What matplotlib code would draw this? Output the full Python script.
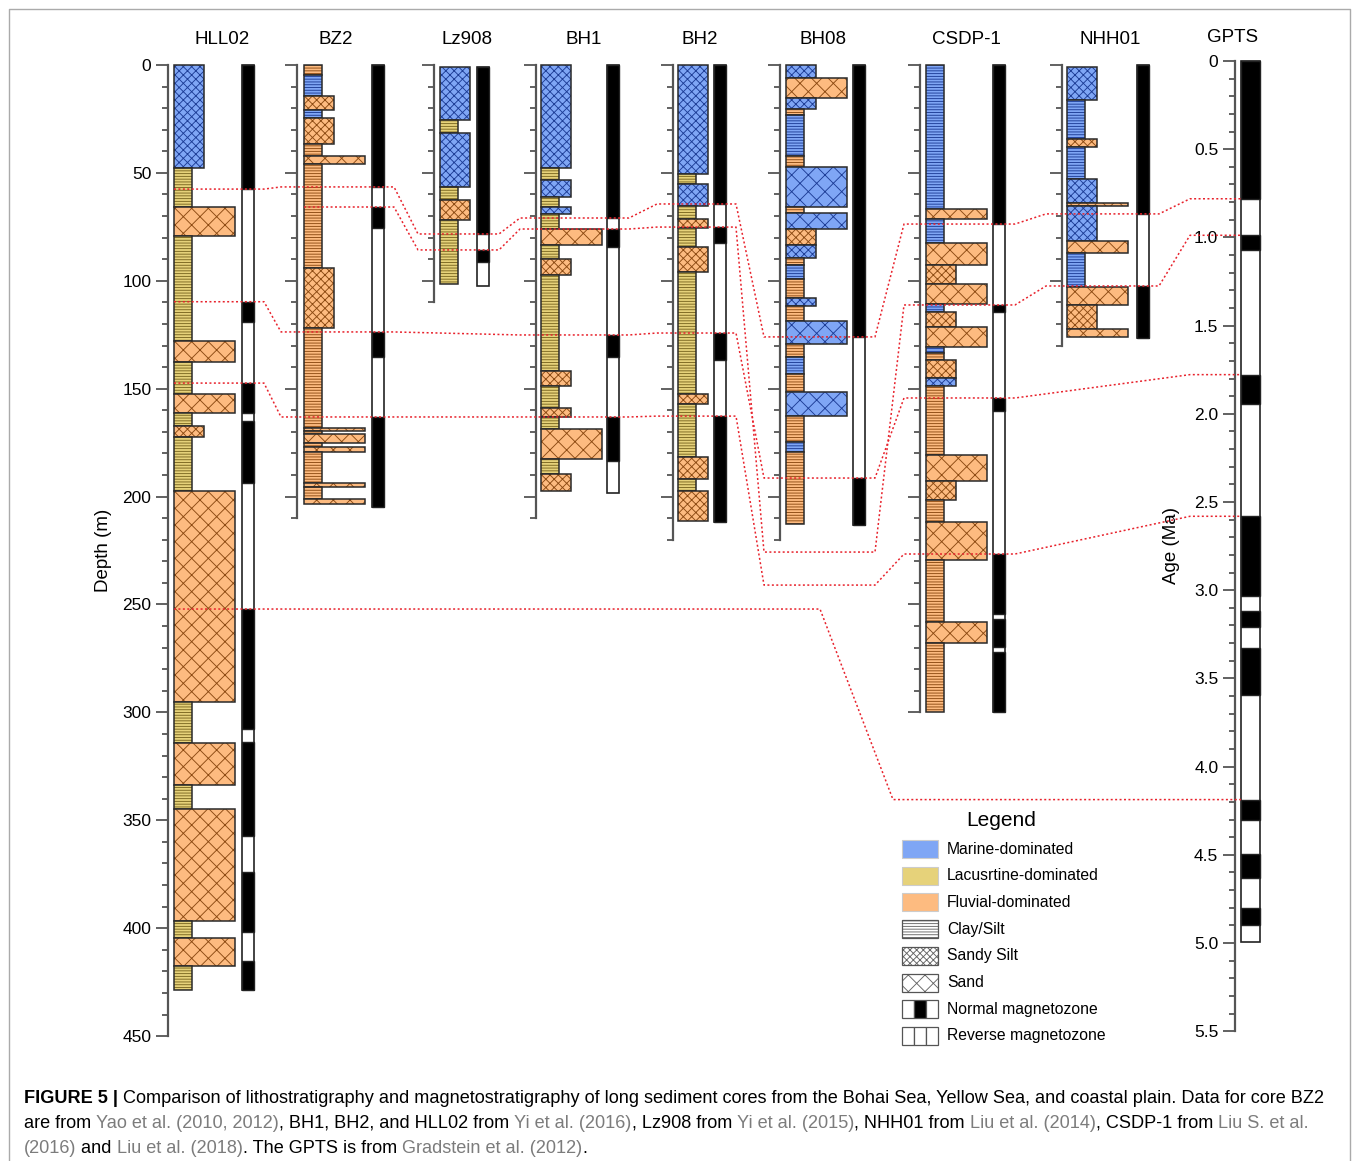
import matplotlib
matplotlib.use('Agg')
import matplotlib.pyplot as plt
from matplotlib.patches import Rectangle
from matplotlib.ticker import FixedLocator, FixedFormatter

plt.rcParams['font.family'] = ['Liberation Sans', 'DejaVu Sans']
plt.rcParams['hatch.linewidth'] = 0.65

# ---------------- data ----------------
CORES = ['HLL02', 'BZ2', 'Lz908', 'BH1', 'BH2', 'BH08', 'CSDP-1', 'NHH01']

# lithology layers: (top m, base m, environment, grain size)
# environment M marine / L lacustrine / F fluvial ; grain c clay-silt / z sandy silt / s sand
HLL02_LITH = [
    (0, 47.7, 'M', 'z'), (47.7, 65.8, 'L', 'c'), (65.8, 79.2, 'F', 's'),
    (79.2, 127.9, 'L', 'c'), (127.9, 137.6, 'F', 's'), (137.6, 152.5, 'L', 'c'),
    (152.5, 161.3, 'F', 's'), (161.3, 167.3, 'L', 'c'), (167.3, 172.4, 'F', 'z'),
    (172.4, 197.4, 'L', 'c'), (197.4, 295.2, 'F', 's'), (295.2, 314.2, 'L', 'c'),
    (314.2, 333.6, 'F', 's'), (333.6, 344.8, 'L', 'c'), (344.8, 396.7, 'F', 's'),
    (396.7, 404.5, 'L', 'c'), (404.5, 417.5, 'F', 's'), (417.5, 428.6, 'L', 'c'),
]
BZ2_LITH = [
    (0, 4.6, 'F', 'c'), (4.6, 14.4, 'M', 'c'), (14.4, 20.9, 'F', 'z'),
    (20.9, 24.6, 'M', 'c'), (24.6, 36.6, 'F', 'z'), (36.6, 42.2, 'F', 'c'),
    (42.2, 45.9, 'F', 's'), (45.9, 94.1, 'F', 'c'), (94.1, 121.9, 'F', 'z'),
    (121.9, 168.2, 'F', 'c'), (168.2, 169.4, 'F', 's'), (169.4, 171.0, 'F', 'c'),
    (171.0, 175.2, 'F', 's'), (175.2, 177.0, 'F', 'c'), (177.0, 179.3, 'F', 's'),
    (179.3, 193.7, 'F', 'c'), (193.7, 195.6, 'F', 's'), (195.6, 201.0, 'F', 'c'),
    (201.0, 203.4, 'F', 's'),
]
LZ908_LITH = [
    (0.8, 25.5, 'M', 'z'), (25.5, 31.5, 'L', 'c'), (31.5, 56.5, 'M', 'z'),
    (56.5, 62.6, 'L', 'c'), (62.6, 71.8, 'F', 'z'), (71.8, 101.5, 'L', 'c'),
]
BH1_LITH = [
    (0, 47.7, 'M', 'z'), (47.7, 53.3, 'L', 'c'), (53.3, 61.2, 'M', 'z'),
    (61.2, 65.8, 'L', 'c'), (65.8, 69.0, 'M', 'z'), (69.0, 76.0, 'L', 'c'),
    (76.0, 83.4, 'F', 's'), (83.4, 89.9, 'L', 'c'), (89.9, 97.3, 'F', 'z'),
    (97.3, 141.8, 'L', 'c'), (141.8, 148.7, 'F', 'z'), (148.7, 158.9, 'L', 'c'),
    (158.9, 163.1, 'F', 'z'), (163.1, 168.7, 'L', 'c'), (168.7, 182.6, 'F', 's'),
    (182.6, 189.5, 'L', 'c'), (189.5, 197.4, 'F', 'z'),
]
BH2_LITH = [
    (0, 50.5, 'M', 'z'), (50.5, 55.1, 'L', 'c'), (55.1, 65.3, 'M', 'z'),
    (65.3, 71.4, 'L', 'c'), (71.4, 75.5, 'F', 'z'), (75.5, 84.3, 'L', 'c'),
    (84.3, 95.9, 'F', 'z'), (95.9, 152.5, 'L', 'c'), (152.5, 157.1, 'F', 'z'),
    (157.1, 181.6, 'L', 'c'), (181.6, 191.8, 'F', 'z'), (191.8, 197.4, 'L', 'c'),
    (197.4, 211.3, 'F', 'z'),
]
BH08_LITH = [
    (0, 6.0, 'M', 'z'), (6.0, 15.3, 'F', 's'), (15.3, 20.4, 'M', 'z'),
    (20.4, 23.2, 'F', 'c'), (23.2, 42.2, 'M', 'c'), (42.2, 47.3, 'F', 'c'),
    (47.3, 65.8, 'M', 's'), (65.8, 68.6, 'F', 'c'), (68.6, 76.0, 'M', 's'),
    (76.0, 83.4, 'F', 'z'), (83.4, 89.4, 'M', 'z'), (89.4, 92.7, 'F', 'c'),
    (92.7, 99.2, 'M', 'c'), (99.2, 108.0, 'F', 'c'), (108.0, 111.7, 'M', 'z'),
    (111.7, 118.6, 'F', 'c'), (118.6, 129.3, 'M', 's'), (129.3, 135.3, 'F', 'c'),
    (135.3, 143.2, 'M', 'c'), (143.2, 151.5, 'F', 'c'), (151.5, 162.6, 'M', 's'),
    (162.6, 174.7, 'F', 'c'), (174.7, 179.3, 'M', 'c'), (179.3, 212.7, 'F', 'c'),
]
CSDP1_LITH = [
    (0, 66.7, 'M', 'c'), (66.7, 71.4, 'F', 's'), (71.4, 82.5, 'M', 'c'),
    (82.5, 92.7, 'F', 's'), (92.7, 101.5, 'F', 'z'), (101.5, 110.8, 'F', 's'),
    (110.8, 114.5, 'M', 'c'), (114.5, 121.4, 'F', 'z'), (121.4, 130.7, 'F', 's'),
    (130.7, 133.5, 'M', 'c'), (133.5, 136.7, 'F', 'c'), (136.7, 145.0, 'F', 'z'),
    (145.0, 148.7, 'M', 'z'), (148.7, 180.7, 'F', 'c'), (180.7, 192.8, 'F', 's'),
    (192.8, 201.6, 'F', 'z'), (201.6, 211.8, 'F', 'c'), (211.8, 229.4, 'F', 's'),
    (229.4, 258.1, 'F', 'c'), (258.1, 267.8, 'F', 's'), (267.8, 299.8, 'F', 'c'),
]
NHH01_LITH = [
    (0.9, 16.2, 'M', 'z'), (16.2, 34.3, 'M', 'c'), (34.3, 38.0, 'F', 'z'),
    (38.0, 52.8, 'M', 'c'), (52.8, 63.9, 'M', 'z'), (63.9, 65.3, 'F', 's'),
    (65.3, 81.6, 'M', 'z'), (81.6, 87.1, 'F', 's'), (87.1, 102.9, 'M', 'c'),
    (102.9, 111.2, 'F', 's'), (111.2, 122.3, 'F', 'z'), (122.3, 126.0, 'F', 's'),
]

# magnetozones: normal-polarity intervals (m) and the sampled range (top, base)
HLL02_NORMAL = [(0, 57.5), (109.7, 119.0), (147.4, 161.3), (165.0, 193.7),
                (252.1, 307.7), (313.7, 357.3), (374.0, 401.8), (415.2, 428.6)]
BZ2_NORMAL = [(0, 56.5), (65.8, 75.5), (123.7, 135.3), (163.1, 204.8)]
LZ908_NORMAL = [(0.8, 78.3), (85.7, 91.3)]
BH1_NORMAL = [(0, 70.9), (76.0, 84.3), (125.1, 135.3), (163.1, 183.5)]
BH2_NORMAL = [(0, 64.4), (75.1, 82.5), (124.2, 136.7), (162.7, 211.8)]
BH08_NORMAL = [(0, 126.0), (191.4, 213.2)]
CSDP1_NORMAL = [(0, 73.7), (111.2, 114.5), (154.3, 160.3), (226.6, 254.4),
                (256.7, 269.7), (272.0, 299.8)]
NHH01_NORMAL = [(0, 69.0), (102.4, 126.5)]

MAG_RANGE = {'HLL02': (0, 428.6), 'BZ2': (0, 204.8), 'Lz908': (0.8, 102.4),
             'BH1': (0, 198.3), 'BH2': (0, 211.8), 'BH08': (0, 213.2),
             'CSDP-1': (0, 299.8), 'NHH01': (0, 126.5)}

LITH = {'HLL02': HLL02_LITH, 'BZ2': BZ2_LITH, 'Lz908': LZ908_LITH, 'BH1': BH1_LITH,
        'BH2': BH2_LITH, 'BH08': BH08_LITH, 'CSDP-1': CSDP1_LITH, 'NHH01': NHH01_LITH}
NORMAL = {'HLL02': HLL02_NORMAL, 'BZ2': BZ2_NORMAL, 'Lz908': LZ908_NORMAL,
          'BH1': BH1_NORMAL, 'BH2': BH2_NORMAL, 'BH08': BH08_NORMAL,
          'CSDP-1': CSDP1_NORMAL, 'NHH01': NHH01_NORMAL}

# GPTS (Ma)
GPTS_NORMAL = [(0, 0.781), (0.988, 1.072), (1.778, 1.945), (2.581, 3.032),
               (3.116, 3.207), (3.330, 3.596), (4.187, 4.300), (4.493, 4.631),
               (4.799, 4.896)]
GPTS_BASE = 4.997
GPTS_TICKS = [0, 0.5, 1.0, 1.5, 2.0, 2.5, 3.0, 3.5, 4.0, 4.5, 5.0, 5.5]
GPTS_LABELS = ['0', '0.5', '1.0', '1.5', '2.0', '2.5', '3.0', '3.5', '4.0', '4.5', '5.0', '5.5']

# correlation horizons (depth in m, GPTS in Ma)
HORIZONS = [
    [('HLL02', 57.5), ('BZ2', 56.5), ('Lz908', 78.3), ('BH1', 70.9), ('BH2', 64.4),
     ('BH08', 126.0), ('CSDP-1', 73.7), ('NHH01', 69.0), ('GPTS', 0.781)],
    [('BZ2', 65.8), ('Lz908', 85.7), ('BH1', 76.0), ('BH2', 75.1), ('BH08', 225.7),
     ('CSDP-1', 111.2), ('NHH01', 102.4), ('GPTS', 0.988)],
    [('HLL02', 109.7), ('BZ2', 123.7), ('BH1', 125.1), ('BH2', 124.2), ('BH08', 191.4),
     ('CSDP-1', 154.3), ('GPTS', 1.778)],
    [('HLL02', 147.4), ('BZ2', 163.1), ('BH1', 163.1), ('BH2', 162.7), ('BH08', 241.0),
     ('CSDP-1', 226.6), ('GPTS', 2.581)],
    [('HLL02', 252.1), ('GPTS', 4.187)],
]

LEGEND_LABELS = ['Marine-dominated', 'Lacusrtine-dominated', 'Fluvial-dominated',
                 'Clay/Silt', 'Sandy Silt', 'Sand', 'Normal magnetozone',
                 'Reverse magnetozone']

# ---------------- style / layout (pixels) ----------------
W, H, DPI = 1358, 1161, 100
Y0, PX_M = 65.0, 2.158        # row of 0 m, pixels per metre
A0, PX_MA = 61.0, 176.4       # row of 0 Ma, pixels per Ma
PAD = 6

ENV_FILL = {'M': '#7fa6f5', 'L': '#e6d27a', 'F': '#fdbb80'}
ENV_HATCH = {'M': '#1d3d96', 'L': '#7a6720', 'F': '#8c4a12'}
GRAIN_HATCH = {'c': '------', 'z': 'xxxx', 's': 'xx'}
GRAIN_W = {'c': 18, 'z': 30, 's': 61}
MAG_W = 12
RED = '#e8222c'

LAYOUT = {
    'HLL02': dict(spine=168, lith=174, mag=242, axis_max=450, title_x=222),
    'BZ2': dict(spine=297, lith=304, mag=372, axis_max=210, title_x=336),
    'Lz908': dict(spine=434, lith=440, mag=477, axis_max=110, title_x=467),
    'BH1': dict(spine=536, lith=541, mag=607, axis_max=210, title_x=584),
    'BH2': dict(spine=673, lith=678, mag=714, axis_max=220, title_x=700),
    'BH08': dict(spine=780, lith=786, mag=853, axis_max=220, title_x=823),
    'CSDP-1': dict(spine=920, lith=926, mag=993, axis_max=300, title_x=966),
    'NHH01': dict(spine=1062, lith=1067, mag=1137, axis_max=130, title_x=1110),
}
HORIZON_BENDS = {4: (820, 893)}


def px_box(x0, x1, y0, y1):
    return [x0 / W, 1 - y1 / H, (x1 - x0) / W, (y1 - y0) / H]


def style_axis(ax, top, bottom, majors, minors):
    for s in ['top', 'right', 'bottom']:
        ax.spines[s].set_visible(False)
    ax.spines['left'].set_bounds(top, bottom)
    ax.spines['left'].set_color('#555555')
    ax.spines['left'].set_linewidth(1.6)
    ax.patch.set_visible(False)
    ax.set_xticks([])
    ax.yaxis.set_major_locator(FixedLocator(majors))
    ax.yaxis.set_minor_locator(FixedLocator(minors))
    ax.tick_params(axis='y', which='major', length=9, width=1.3, color='#555555',
                   labelsize=12.5, pad=3)
    ax.tick_params(axis='y', which='minor', length=4.5, width=1.3, color='#555555')


fig = plt.figure(figsize=(W / DPI, H / DPI), dpi=DPI)

core_axes = {}
for name in CORES:
    lay = LAYOUT[name]
    right = lay['mag'] + MAG_W + 4
    ax = fig.add_axes(px_box(lay['spine'], right, Y0 - PAD * PX_M, Y0 + (450 + PAD) * PX_M))
    ax.set_xlim(lay['spine'], right)
    ax.set_ylim(450 + PAD, -PAD)
    amax = lay['axis_max']
    style_axis(ax, 0, amax, list(range(0, amax + 1, 50)),
               [v for v in range(0, amax + 1, 10) if v % 50])
    if name != 'HLL02':
        ax.tick_params(axis='y', labelleft=False)

    for top, base, env, grain in LITH[name]:
        w = GRAIN_W[grain]
        ax.bar(lay['lith'], base - top, width=w, bottom=top, align='edge',
               color=ENV_FILL[env], edgecolor=ENV_HATCH[env], hatch=GRAIN_HATCH[grain],
               linewidth=0)
        ax.bar(lay['lith'], base - top, width=w, bottom=top, align='edge',
               fill=False, edgecolor='#2a2a2a', linewidth=1.1)

    mtop, mbase = MAG_RANGE[name]
    ax.bar(lay['mag'], mbase - mtop, width=MAG_W, bottom=mtop, align='edge',
           color='white', edgecolor='#222222', linewidth=1.2)
    for top, base in NORMAL[name]:
        ax.bar(lay['mag'], base - top, width=MAG_W, bottom=top, align='edge',
               color='black', edgecolor='#222222', linewidth=1.0)
    core_axes[name] = ax

core_axes['HLL02'].set_yticklabels([str(v) for v in range(0, 451, 50)])

# GPTS column
gax = fig.add_axes(px_box(1235, 1264, A0 - 0.05 * PX_MA, A0 + 5.55 * PX_MA))
gax.set_xlim(1235, 1264)
gax.set_ylim(5.55, -0.05)
style_axis(gax, 0, 5.5, GPTS_TICKS,
           [round(i * 0.1, 1) for i in range(56) if i % 5])
gax.yaxis.set_major_formatter(FixedFormatter(GPTS_LABELS))
gax.bar(1241, GPTS_BASE, width=19, bottom=0, align='edge', color='white',
        edgecolor='#222222', linewidth=1.2)
for top, base in GPTS_NORMAL:
    gax.bar(1241, base - top, width=19, bottom=top, align='edge', color='black',
            edgecolor='#222222', linewidth=1.0)

# overlay in pixel coordinates
over = fig.add_axes([0, 0, 1, 1])
over.set_xlim(0, W)
over.set_ylim(H, 0)
over.axis('off')
over.set_zorder(5)


def row_of(name, val):
    a = gax if name == 'GPTS' else core_axes[name]
    disp = a.transData.transform((a.get_xlim()[0], val))
    return over.transData.inverted().transform(disp)[1]


def x_in(name):
    return 1190 if name == 'GPTS' else LAYOUT[name]['spine'] - 16


def x_out(name):
    return 1241 if name == 'GPTS' else LAYOUT[name]['mag'] + MAG_W + 10


for k, hz in enumerate(HORIZONS):
    xs, ys = [], []
    for i, (name, val) in enumerate(hz):
        y = row_of(name, val)
        start = LAYOUT[name]['lith'] if i == 0 else x_in(name)
        end = x_out(name)
        if k in HORIZON_BENDS:
            if i == 0:
                end = HORIZON_BENDS[k][0]
            else:
                start = HORIZON_BENDS[k][1]
        xs += [start, end]
        ys += [y, y]
    over.plot(xs, ys, color=RED, lw=1.1, linestyle=(0, (1.3, 1.6)), zorder=6)

# titles and axis labels
for name in CORES:
    over.text(LAYOUT[name]['title_x'], 39, name, ha='center', va='center', fontsize=13.5)
over.text(1233, 37, 'GPTS', ha='center', va='center', fontsize=13.5)
over.text(104, 550, 'Depth (m)', rotation=90, ha='center', va='center', fontsize=13.5)
over.text(1172, 546, 'Age (Ma)', rotation=90, ha='center', va='center', fontsize=13.5)

# legend
over.text(1001, 821, 'Legend', ha='center', va='center', fontsize=15)
for i, label in enumerate(LEGEND_LABELS):
    yc = 849 + i * 26.7
    y = yc - 9
    if i < 3:
        fill = [ENV_FILL['M'], ENV_FILL['L'], ENV_FILL['F']][i]
        over.add_patch(Rectangle((902, y), 36, 18, facecolor=fill, edgecolor='#cccccc', lw=0.8))
    elif i < 6:
        hatch = ['------', 'xxxxx', 'xx'][i - 3]
        over.add_patch(Rectangle((902, y), 36, 18, facecolor='white', edgecolor='#666666',
                                 hatch=hatch, lw=0))
        over.add_patch(Rectangle((902, y), 36, 18, fill=False, edgecolor='#555555', lw=0.9))
    else:
        for j in range(3):
            fc = 'black' if (i == 6 and j == 1) else 'white'
            over.add_patch(Rectangle((902 + 12 * j, y), 12, 18, facecolor=fc,
                                     edgecolor='#555555', lw=0.9))
    over.text(947, yc, label, ha='left', va='center', fontsize=11.3)

# frame
over.plot([9, 9, 1350, 1350], [1161, 9, 9, 1161], color='#aaaaaa', lw=1.0)

# caption
GRAY = '#7c7c7c'
CAPTION = [
    [('FIGURE 5 |', 'black', 'bold'),
     (' Comparison of lithostratigraphy and magnetostratigraphy of long sediment cores from '
      'the Bohai Sea, Yellow Sea, and coastal plain. Data for core BZ2', 'black', 'normal')],
    [('are from ', 'black', 'normal'), ('Yao et al. (2010, 2012)', GRAY, 'normal'),
     (', BH1, BH2, and HLL02 from ', 'black', 'normal'), ('Yi et al. (2016)', GRAY, 'normal'),
     (', Lz908 from ', 'black', 'normal'), ('Yi et al. (2015)', GRAY, 'normal'),
     (', NHH01 from ', 'black', 'normal'), ('Liu et al. (2014)', GRAY, 'normal'),
     (', CSDP-1 from ', 'black', 'normal'), ('Liu S. et al.', GRAY, 'normal')],
    [('(2016)', GRAY, 'normal'), (' and ', 'black', 'normal'),
     ('Liu et al. (2018)', GRAY, 'normal'), ('. The GPTS is from ', 'black', 'normal'),
     ('Gradstein et al. (2012)', GRAY, 'normal'), ('.', 'black', 'normal')],
]
renderer = fig.canvas.get_renderer()


def seg_width(s, weight, size):
    t1 = over.text(0, 0, s + '|', fontsize=size, fontweight=weight)
    t2 = over.text(0, 0, '|', fontsize=size, fontweight=weight)
    w = t1.get_window_extent(renderer).width - t2.get_window_extent(renderer).width
    t1.remove()
    t2.remove()
    return w


base_size = 12
w1 = sum(seg_width(s, wt, base_size) for s, c, wt in CAPTION[0])
cap_size = base_size * 1302 / w1
for li, line in enumerate(CAPTION):
    x = 24
    yb = 1103 + 25 * li
    for s, c, wt in line:
        over.text(x, yb, s, color=c, fontweight=wt, fontsize=cap_size,
                  ha='left', va='baseline')
        x += seg_width(s, wt, cap_size)

fig.savefig('out.png', dpi=DPI)
